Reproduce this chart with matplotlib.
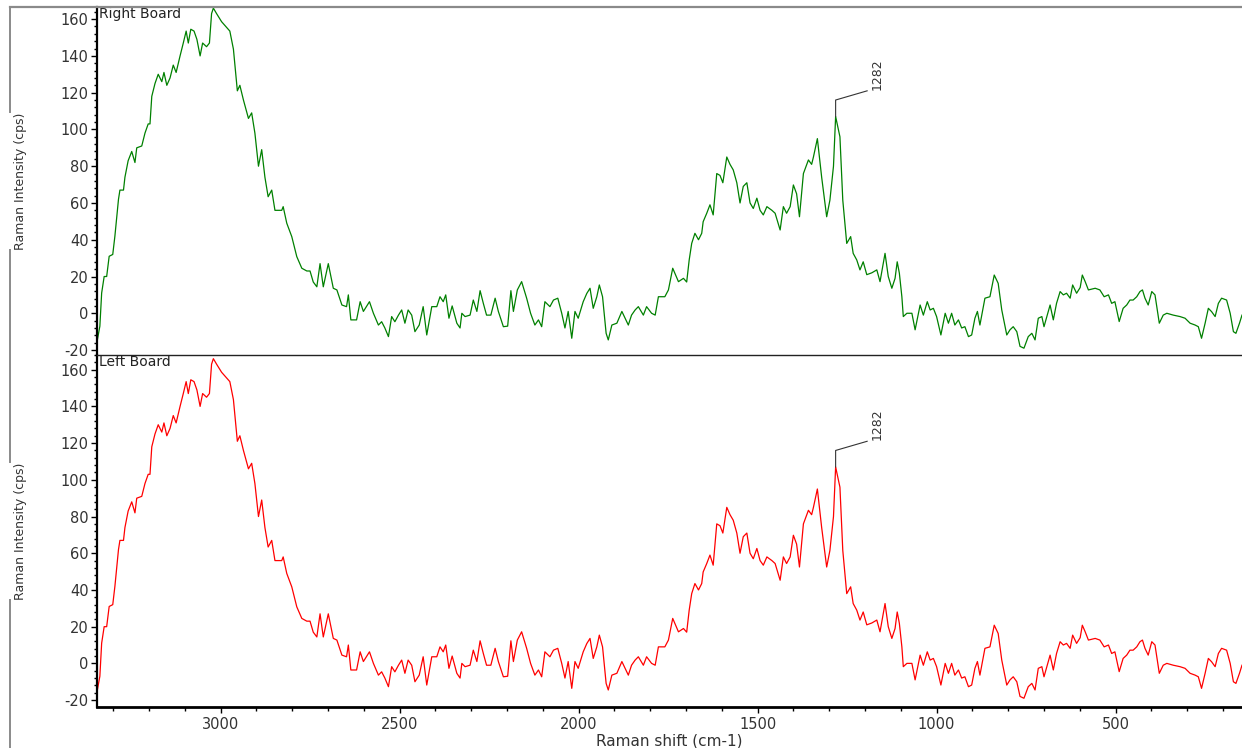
import matplotlib
matplotlib.use("Agg")
import matplotlib.pyplot as plt
from matplotlib.lines import Line2D
from matplotlib.ticker import MultipleLocator

plt.rcParams['font.family'] = ['DejaVu Sans']
plt.rcParams['axes.unicode_minus'] = False

# spectrum (both boards show the same trace)
shift = [
    3344, 3337, 3332, 3325, 3318, 3311, 3301, 3295, 3285, 3281, 3271, 3267, 3258, 3248, 3239, 3234,
    3220, 3211, 3202, 3197, 3192, 3183, 3174, 3164, 3158, 3150, 3141, 3132, 3124, 3113, 3104, 3096,
    3090, 3083, 3074, 3066, 3057, 3050, 3039, 3031, 3025, 3020, 3011, 2997, 2974, 2964, 2953, 2946,
    2936, 2922, 2913, 2904, 2894, 2885, 2876, 2867, 2857, 2848, 2829, 2825, 2815, 2801, 2787, 2773,
    2759, 2750, 2741, 2731, 2722, 2713, 2699, 2685, 2675, 2661, 2648, 2643, 2636, 2620, 2610, 2601,
    2584, 2573, 2559, 2550, 2541, 2531, 2522, 2513, 2503, 2494, 2485, 2476, 2466, 2457, 2445, 2434,
    2424, 2410, 2396, 2387, 2378, 2371, 2362, 2353, 2340, 2331, 2326, 2317, 2303, 2294, 2284, 2275,
    2266, 2257, 2245, 2233, 2224, 2210, 2198, 2189, 2182, 2171, 2159, 2145, 2134, 2122, 2112, 2103,
    2094, 2080, 2070, 2058, 2047, 2038, 2029, 2019, 2010, 2001, 1987, 1977, 1968, 1959, 1949, 1942,
    1933, 1923, 1917, 1907, 1893, 1879, 1870, 1861, 1852, 1842, 1833, 1819, 1810, 1796, 1786, 1777,
    1759, 1749, 1737, 1721, 1707, 1698, 1691, 1684, 1675, 1665, 1656, 1652, 1642, 1633, 1624, 1614,
    1605, 1597, 1586, 1577, 1568, 1558, 1549, 1540, 1530, 1521, 1512, 1502, 1493, 1484, 1474, 1460,
    1451, 1437, 1428, 1419, 1409, 1400, 1391, 1383, 1372, 1358, 1349, 1344, 1333, 1321, 1307, 1298,
    1288, 1282, 1270, 1262, 1251, 1240, 1233, 1223, 1214, 1205, 1195, 1181, 1167, 1158, 1144, 1135,
    1125, 1116, 1110, 1104, 1097, 1093, 1083, 1069, 1060, 1046, 1037, 1026, 1018, 1009, 1000, 988,
    976, 967, 958, 949, 939, 930, 921, 911, 902, 893, 886, 879, 865, 851, 839, 828,
    818, 804, 795, 786, 776, 767, 756, 744, 734, 725, 716, 706, 700, 692, 683, 674,
    665, 655, 646, 637, 627, 620, 609, 599, 593, 585, 576, 557, 544, 532, 520, 511,
    502, 490, 479, 469, 460, 451, 441, 432, 425, 418, 409, 399, 390, 378, 367, 357,
    339, 320, 306, 292, 278, 269, 260, 250, 241, 232, 222, 213, 204, 190, 180, 171,
    164, 154, 147,
]
right_board = [
    -14.5, -7, 11, 20, 20, 31, 32, 42, 62, 67, 67, 74, 83, 88, 82, 90,
    91, 98, 103, 103, 118, 125, 130, 126, 131, 124, 128, 135, 131, 140, 147, 153.5,
    147, 154.5, 153.5, 149, 140, 147, 145, 147, 163, 166, 163, 158.6, 153.5, 143.7, 121, 124,
    116, 106, 109, 98, 80, 89, 74, 63.4, 67, 56, 56, 58, 49, 41.7, 30.8, 24.5,
    23, 23, 17, 14.4, 27, 14.4, 27, 13.6, 12.7, 4.5, 3.6, 10, -3.6, -3.6, 6.3, 1,
    6.3, 0, -6.4, -4.6, -8, -12.7, -1.8, -4.6, -1, 1.8, -5.4, 1.8, -1, -10, -6.4, 3.6,
    -11.8, 3.6, 3.6, 9, 6.3, 10, -2.7, 4, -5.4, -8, 0, -1.8, -1, 7.2, 1, 12.3,
    5.4, -1, -1, 8.2, 1, -7.3, -7, 12.3, 1, 12.7, 17.2, 8.2, 0, -6.4, -3.6, -7.3,
    6.3, 3.6, 7.2, 8.2, 0, -8, 1, -13.6, 1, -2.7, 6.3, 10.8, 13.6, 2.7, 9, 15.4,
    9, -10.9, -14.5, -6.4, -5.4, 1, -2.7, -6.4, -1, 1.8, 3.6, -1, 3.6, 0, -1, 9,
    9, 12.7, 24.5, 17.2, 19, 17, 29, 38, 43.5, 40, 43.5, 49.8, 54.4, 59, 53.5, 76,
    75, 71, 85, 81, 78, 71, 60, 69, 71, 60, 57, 62.6, 56, 53.5, 58, 56,
    54.4, 45.3, 58, 54.4, 58, 69.8, 65, 52.5, 76, 83.4, 81, 85, 95, 74, 52.5, 61.5,
    80, 107, 96, 61.5, 38, 41.7, 32.6, 29, 23.6, 28, 21, 22, 23.6, 17.2, 32.6, 20,
    13.6, 19, 28, 21.8, 9, -1.8, 0, 0, -9, 4.5, -1, 6.3, 1.8, 2.7, -1.8, -11.8,
    0, -5.4, 0, -6.4, -3.6, -8, -7.3, -12.7, -11.8, -2.7, 1, -6.4, 8.2, 9, 20.8, 16.3,
    1.8, -11.8, -9, -7.3, -10, -18, -19, -12.7, -10.9, -14.5, -2.7, -1.8, -7.3, -1.8, 4.5, -3.6,
    5.4, 11.8, 10, 10.9, 8.2, 15.4, 10.9, 14, 20.8, 17.2, 12.7, 13.6, 12.7, 9, 10, 5.4,
    6.3, -4.5, 2.7, 4.5, 7.2, 7.2, 9, 11.8, 12.7, 8.2, 4.5, 11.8, 10, -5.4, -1, 0,
    -1, -1.8, -2.7, -5.4, -6.4, -7.3, -13.6, -5.4, 2.7, 0.9, -1.8, 5.4, 8.2, 7.2, 0, -10,
    -10.9, -5.4, -1,
]
left_board = list(right_board)

peak_label = 1282
panel_titles = ["Right Board", "Left Board"]
panel_colors = ["#008000", "#ff0000"]
panel_series = [right_board, left_board]

W, H = 1242, 748
fig = plt.figure(figsize=(W / 100, H / 100), dpi=100)

def fx(px):
    return px / W

def fy(px):
    return 1 - px / H

ax_top = fig.add_axes([fx(97), fy(355), fx(1242 - 97), (355 - 7) / H])
ax_bot = fig.add_axes([fx(97), fy(706.7), fx(1242 - 97), (706.7 - 355) / H], sharex=ax_top)

ylims = [(-22.7, 166.6), (-23.6, 168.0)]
text_col = "#333333"

for ax, title, col, ys, yl in zip([ax_top, ax_bot], panel_titles, panel_colors, panel_series, ylims):
    ax.plot(shift, ys, color=col, lw=0.9)
    ax.set_xlim(3345, 147)
    ax.set_ylim(*yl)
    ax.yaxis.set_major_locator(MultipleLocator(20))
    ax.yaxis.set_minor_locator(MultipleLocator(4))
    ax.tick_params(axis="y", which="major", direction="out", length=4.5, width=1,
                   labelsize=10.5, labelcolor=text_col, pad=1.5)
    ax.tick_params(axis="y", which="minor", direction="out", length=2.2, width=1)
    ax.spines["right"].set_visible(False)
    ax.spines["top"].set_visible(False)
    ax.spines["left"].set_linewidth(1.6)
    ax.spines["left"].set_color("black")
    ax.text(0.002, 0.999, title, transform=ax.transAxes, ha="left", va="top",
            fontsize=10, color="#222222")

    # peak marker with leader line
    i = shift.index(peak_label)
    peak_y = ys[i]
    ax.plot([peak_label, peak_label, 1194], [peak_y, peak_y + 9, peak_y + 14],
            color="#333333", lw=0.8)
    ax.text(1166, peak_y + 14.5, str(peak_label), rotation=90, ha="center", va="bottom",
            fontsize=9, color=text_col)

# thin dark divider between the two panels, no x ticks on the top one
ax_top.spines["bottom"].set_visible(False)
ax_top.tick_params(axis="x", which="both", bottom=False, labelbottom=False)
ax_bot.spines["top"].set_visible(True)
ax_bot.spines["top"].set_linewidth(1.0)
ax_bot.spines["top"].set_color("#222222")

ax_bot.spines["bottom"].set_linewidth(2)
ax_bot.xaxis.set_major_locator(MultipleLocator(500))
ax_bot.xaxis.set_minor_locator(MultipleLocator(100))
ax_bot.tick_params(axis="x", which="major", direction="out", length=4.5, width=1,
                   labelsize=10.5, labelcolor=text_col, pad=3)
ax_bot.tick_params(axis="x", which="minor", direction="out", length=3, width=1)
ax_bot.set_xlabel("Raman shift (cm-1)", fontsize=11, color=text_col, labelpad=1)

# y labels and the outer bracket on the left
for yc in [181, 531]:
    fig.text(fx(21), fy(yc), "Raman Intensity (cps)", rotation=90, ha="center", va="center",
             fontsize=9, color=text_col)

frame = "#8a8a8a"
fig.add_artist(Line2D([fx(10), fx(1242)], [fy(7), fy(7)], color=frame, lw=1.6))
for y0, y1 in [(7, 112), (250, 462), (600, 748)]:
    fig.add_artist(Line2D([fx(10), fx(10)], [fy(y0), fy(y1)], color=frame, lw=1.4))

fig.savefig("out.png", dpi=100)
